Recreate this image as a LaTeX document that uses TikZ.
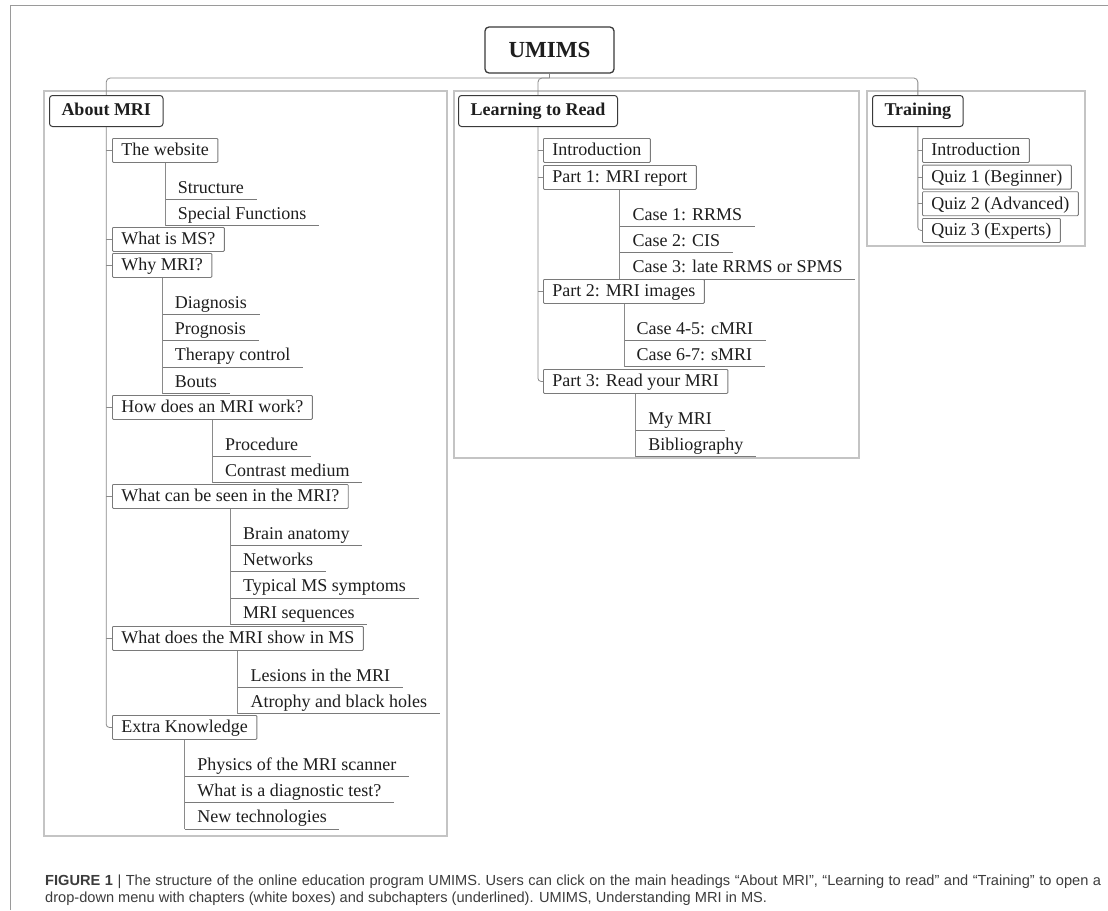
\documentclass[tikz,border=0pt]{standalone}
\usepackage{fontspec}
\setmainfont{Liberation Serif}
\newfontfamily\capfont{Liberation Sans}
\usetikzlibrary{calc}
\definecolor{linkc}{HTML}{8A8A8A}
\definecolor{boxc}{HTML}{7A7A7A}
\definecolor{hdrc}{HTML}{3A3A3A}
\definecolor{panelc}{HTML}{C4C4C4}
\definecolor{txtc}{HTML}{1E1E1E}
\definecolor{capc}{HTML}{3C3C3C}
\definecolor{framec}{HTML}{9A9A9A}
\begin{document}
\begin{tikzpicture}[x=1pt,y=-1pt,
 every node/.style={text=txtc},
 chap/.style={draw=boxc, line width=0.8pt, rounded corners=1pt, fill=white, anchor=north west,
   inner xsep=9pt, inner ysep=2.5pt, text height=15pt, text depth=4pt, font=\fontsize{18pt}{20pt}\selectfont},
 sub/.style={anchor=south west, inner xsep=12.5pt, inner ysep=2pt, text height=13pt, text depth=4pt,
   font=\fontsize{18pt}{20pt}\selectfont},
 hdr/.style={draw=hdrc, line width=1pt, rounded corners=3pt, fill=white, anchor=north west,
   inner xsep=12pt, inner ysep=7pt, text height=13pt, text depth=4pt, font=\fontsize{18pt}{20pt}\selectfont\bfseries},
 panel/.style={draw=panelc, line width=1.6pt},
 link/.style={draw=linkc, line width=0.8pt},
 uline/.style={draw=boxc, line width=0.8pt},
 captxt/.style={anchor=base west, inner sep=0pt, text=capc, font=\capfont\fontsize{14.6pt}{17pt}\selectfont},
]
\useasboundingbox (0,0) rectangle (1108,910);
\fill[white] (0,0) rectangle (1108,910);
\draw[framec, line width=1pt] (10,910) -- (10,5) -- (1108,5);

% panels
\draw[panel] (44,91) rectangle (447,836);
\draw[panel] (454,91) rectangle (859,458);
\draw[panel] (867,91) rectangle (1085,246);

% root
\node[draw=hdrc, line width=1.3pt, rounded corners=4pt, minimum width=129pt, minimum height=46pt,
  fill=white, font=\fontsize{23pt}{25pt}\selectfont\bfseries] (umims) at (549.5,50) {UMIMS};

% headers
\node[hdr] (about) at (49,95) {About MRI};
\node[hdr] (learn) at (458,95) {Learning to Read};
\node[hdr] (train) at (872,95) {Training};

% About MRI
\node[chap] (website) at (112,138) {The website};
\node[sub] (structure) at ($(website.south)+(0,36.5)$) {Structure};
\node[sub] (special) at ($(website.south)+(0,62.9)$) {Special Functions};
\node[chap] (whatms) at (112,227) {What is MS?};
\node[chap] (whymri) at (112,253) {Why MRI?};
\node[sub] (diag) at ($(whymri.south)+(0,36.5)$) {Diagnosis};
\node[sub] (progn) at ($(whymri.south)+(0,62.9)$) {Prognosis};
\node[sub] (ther) at ($(whymri.south)+(0,89.3)$) {Therapy control};
\node[sub] (bouts) at ($(whymri.south)+(0,115.7)$) {Bouts};
\node[chap] (how) at (112,395) {How does an MRI work?};
\node[sub] (proc) at ($(how.south)+(0,36.5)$) {Procedure};
\node[sub] (contr) at ($(how.south)+(0,62.9)$) {Contrast medium};
\node[chap] (seen) at (112,484) {What can be seen in the MRI?};
\node[sub] (brain) at ($(seen.south)+(0,36.5)$) {Brain anatomy};
\node[sub] (netw) at ($(seen.south)+(0,62.9)$) {Networks};
\node[sub] (typ) at ($(seen.south)+(0,89.3)$) {Typical MS symptoms};
\node[sub] (seq) at ($(seen.south)+(0,115.7)$) {MRI sequences};
\node[chap] (show) at (112,626) {What does the MRI show in MS};
\node[sub] (lesions) at ($(show.south)+(0,36.5)$) {Lesions in the MRI};
\node[sub] (atro) at ($(show.south)+(0,62.9)$) {Atrophy and black holes};
\node[chap] (extra) at (112,715) {Extra Knowledge};
\node[sub] (phys) at ($(extra.south)+(0,36.5)$) {Physics of the MRI scanner};
\node[sub] (diagtest) at ($(extra.south)+(0,62.9)$) {What is a diagnostic test?};
\node[sub] (newtech) at ($(extra.south)+(0,89.3)$) {New technologies};

% Learning to Read
\node[chap] (lintro) at (543,138) {Introduction};
\node[chap] (part1) at (543,165) {Part 1: MRI report};
\node[sub] (case1) at ($(part1.south)+(0,36.5)$) {Case 1: RRMS};
\node[sub] (case2) at ($(part1.south)+(0,62.9)$) {Case 2: CIS};
\node[sub] (case3) at ($(part1.south)+(0,89.3)$) {Case 3: late RRMS or SPMS};
\node[chap] (part2) at (543,279) {Part 2: MRI images};
\node[sub] (case45) at ($(part2.south)+(0,36.5)$) {Case 4-5: cMRI};
\node[sub] (case67) at ($(part2.south)+(0,62.9)$) {Case 6-7: sMRI};
\node[chap] (part3) at (543,369) {Part 3: Read your MRI};
\node[sub] (mymri) at ($(part3.south)+(0,36.5)$) {My MRI};
\node[sub] (biblio) at ($(part3.south)+(0,62.9)$) {Bibliography};

% Training
\node[chap] (tintro) at (922,138) {Introduction};
\node[chap] (quiz1) at (922,164.7) {Quiz 1 (Beginner)};
\node[chap] (quiz2) at (922,191.3) {Quiz 2 (Advanced)};
\node[chap] (quiz3) at (922,218) {Quiz 3 (Experts)};

% underlines of subchapters
\foreach \n in {structure,special,diag,progn,ther,bouts,proc,contr,brain,netw,typ,seq,
  lesions,atro,phys,diagtest,newtech,case1,case2,case3,case45,case67,mymri,biblio}
  \draw[uline] (\n.south west) -- (\n.south east);

% subchapter verticals
\draw[link] (website.south) -- (website.south |- special.south west);
\draw[link] (whymri.south) -- (whymri.south |- bouts.south west);
\draw[link] (how.south) -- (how.south |- contr.south west);
\draw[link] (seen.south) -- (seen.south |- seq.south west);
\draw[link] (show.south) -- (show.south |- atro.south west);
\draw[link] (extra.south) -- (extra.south |- newtech.south west);
\draw[link] (part1.south) -- (part1.south |- case3.south west);
\draw[link] (part2.south) -- (part2.south |- case67.south west);
\draw[link] (part3.south) -- (part3.south |- biblio.south west);

% chapter trunks
\draw[link, rounded corners=3pt] (about.south) |- (extra.west);
\foreach \n in {website,whatms,whymri,how,seen,show}
  \draw[link] (about.south |- \n.west) -- (\n.west);
\draw[link, rounded corners=3pt] (learn.south) |- (part3.west);
\foreach \n in {lintro,part1,part2}
  \draw[link] (learn.south |- \n.west) -- (\n.west);
\draw[link, rounded corners=3pt] (train.south) |- (quiz3.west);
\foreach \n in {tintro,quiz1,quiz2}
  \draw[link] (train.south |- \n.west) -- (\n.west);

% top connectors
\coordinate (bus) at (549.5,78);
\draw[link] (umims.south) -- (bus);
\draw[link, rounded corners=4pt] (about.north) |- (bus) -| (train.north);
\draw[link, rounded corners=4pt] (bus) -| (learn.north);

% caption
\node[captxt] (cap1) at (45,885) {\makebox[1056pt][s]{\textbf{FIGURE 1} | The structure of the online education program UMIMS. Users can click on the main headings “About MRI”, “Learning to read” and “Training” to open a}};
\node[captxt] (cap2) at (45,902.5) {drop-down menu with chapters (white boxes) and subchapters (underlined). UMIMS, Understanding MRI in MS.};
\end{tikzpicture}
\end{document}
